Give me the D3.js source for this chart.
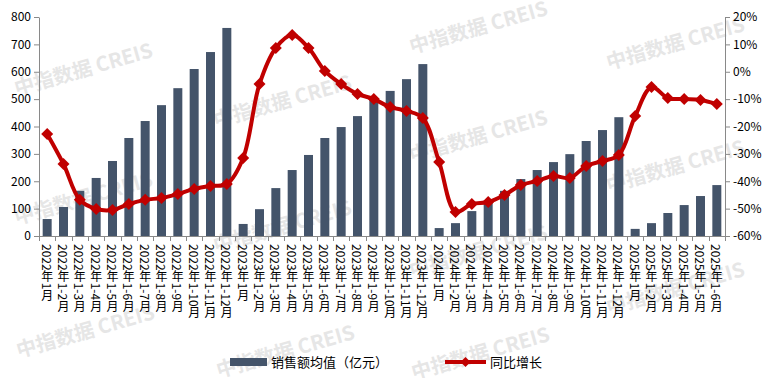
<!DOCTYPE html>
<html><head><meta charset="utf-8">
<script src="https://cdn.jsdelivr.net/npm/d3@7"></script>
<style>
html,body{margin:0;padding:0;background:#fff;}
svg{display:block;}
</style></head>
<body>
<svg id="chart" width="774" height="378"></svg>
<script>
const categories = [
 "2022年1月","2022年1-2月","2022年1-3月","2022年1-4月","2022年1-5月","2022年1-6月","2022年1-7月","2022年1-8月","2022年1-9月","2022年1-10月","2022年1-11月","2022年1-12月",
 "2023年1月","2023年1-2月","2023年1-3月","2023年1-4月","2023年1-5月","2023年1-6月","2023年1-7月","2023年1-8月","2023年1-9月","2023年1-10月","2023年1-11月","2023年1-12月",
 "2024年1月","2024年1-2月","2024年1-3月","2024年1-4月","2024年1-5月","2024年1-6月","2024年1-7月","2024年1-8月","2024年1-9月","2024年1-10月","2024年1-11月","2024年1-12月",
 "2025年1月","2025年1-2月","2025年1-3月","2025年1-4月","2025年1-5月","2025年1-6月"
];
const salesAvg = [62,106,165,212,274,358,420,478,540,610,672,760,
 44,98,175,241,296,358,398,438,497,530,573,628,
 29,47,91,122,165,208,241,270,299,347,387,434,
 26,47,84,113,146,186];
const yoyGrowth = [-22.7,-33.7,-46.8,-50.1,-50.5,-48.3,-46.8,-46.1,-44.7,-42.8,-41.7,-41.0,
 -31.5,-4.5,8.7,13.4,8.7,0.3,-4.5,-8.1,-10.0,-12.9,-14.3,-16.9,
 -33.0,-51.2,-48.3,-47.6,-45.0,-41.4,-39.9,-38.1,-38.8,-34.4,-32.6,-30.4,
 -16.2,-5.6,-9.6,-10.0,-10.3,-11.8];
const leftTicks = [0,100,200,300,400,500,600,700,800];
const rightTicks = [-60,-50,-40,-30,-20,-10,0,10,20];
const seriesNames = ["销售额均值（亿元）","同比增长"];
const watermarkText = "中指数据 CREIS";

(function(){
const svg = d3.select("#chart");
const W = 774, H = 378;
const pl = 39, pr = 725, pt = 17, pb = 236;
const barColor = "#44546a", lineColor = "#c00000", axisColor = "#898989";
const font = "'Noto Sans CJK SC', 'Noto Sans', sans-serif";

svg.append("rect").attr("width",W).attr("height",H).attr("fill","#fff");

// watermarks (behind)
const wm = svg.append("g");
const wmPos = [[83,68],[282,100],[478,26],[675,42],[478,135],[675,165],[83,197],[282,225],[478,250],[675,287],[85,330],[285,350],[480,352]];
wmPos.forEach(p=>{
  wm.append("text").attr("transform",`translate(${p[0]},${p[1]}) rotate(-16)`)
    .attr("text-anchor","middle").attr("dominant-baseline","central")
    .attr("font-family",font).attr("font-weight","bold").attr("font-size",20)
    .attr("fill","#d9d9d9").attr("opacity",0.65).text(watermarkText);
});

const x = d3.scaleBand().domain(categories).range([pl,pr]).paddingInner(0.45).paddingOuter(0.225);
const y = d3.scaleLinear().domain([0,800]).range([pb,pt]);
const y2 = d3.scaleLinear().domain([-60,20]).range([pb,pt]);
const step = x.step();

// bars
svg.append("g").selectAll("rect").data(categories).join("rect")
  .attr("x",d=>x(d)).attr("width",x.bandwidth())
  .attr("y",(d,i)=>y(salesAvg[i])).attr("height",(d,i)=>pb-y(salesAvg[i]))
  .attr("fill",barColor);

// left axis
const ax = svg.append("g").attr("transform",`translate(${pl},0)`)
  .call(d3.axisLeft(y).tickValues(leftTicks).tickSize(5).tickSizeOuter(0).tickPadding(3));
ax.select(".domain").attr("stroke",axisColor);
ax.selectAll(".tick line").attr("stroke",axisColor);
ax.selectAll("text").attr("font-family",font).attr("font-size",12).attr("fill","#000");

// right axis
const ax2 = svg.append("g").attr("transform",`translate(${pr},0)`)
  .call(d3.axisRight(y2).tickValues(rightTicks).tickFormat(d=>d+"%").tickSize(5).tickSizeOuter(0).tickPadding(3));
ax2.select(".domain").attr("stroke",axisColor);
ax2.selectAll(".tick line").attr("stroke",axisColor);
ax2.selectAll("text").attr("font-family",font).attr("font-size",12).attr("fill","#000");

// bottom axis
const bx = svg.append("g");
bx.append("line").attr("x1",pl).attr("x2",pr).attr("y1",pb+0.5).attr("y2",pb+0.5).attr("stroke",axisColor);
const bounds = categories.map(c=>x(c)-step*0.225).concat([pr]);
bx.selectAll("line.t").data(bounds).join("line").attr("class","t")
  .attr("x1",d=>Math.round(d)+0.5).attr("x2",d=>Math.round(d)+0.5)
  .attr("y1",pb).attr("y2",pb+5).attr("stroke",axisColor);
bx.selectAll("text").data(categories).join("text")
  .attr("x",d=>x(d)+x.bandwidth()/2).attr("y",244)
  .attr("style","writing-mode: vertical-rl; text-orientation: mixed;")
  .attr("font-family",font).attr("font-size",12).attr("fill","#000")
  .text(d=>d);

// line
const line = d3.line()
  .x((d,i)=>x(categories[i])+x.bandwidth()/2)
  .y(d=>y2(d))
  .curve(d3.curveCatmullRom.alpha(0.5));
svg.append("path").datum(yoyGrowth).attr("d",line)
  .attr("fill","none").attr("stroke",lineColor).attr("stroke-width",4).attr("stroke-linejoin","round");
const diamond = d3.symbol().type(d3.symbolSquare).size(72);
svg.append("g").selectAll("path").data(yoyGrowth).join("path")
  .attr("transform",(d,i)=>`translate(${x(categories[i])+x.bandwidth()/2},${y2(d)}) rotate(45)`)
  .attr("d",diamond()).attr("fill",lineColor);

// legend
const lg = svg.append("g");
lg.append("rect").attr("x",230).attr("y",358).attr("width",37).attr("height",8).attr("fill",barColor);
lg.append("text").attr("x",271).attr("y",367).attr("font-family",font).attr("font-size",13).attr("fill","#000").text(seriesNames[0]);
lg.append("line").attr("x1",445).attr("x2",486).attr("y1",362).attr("y2",362).attr("stroke",lineColor).attr("stroke-width",4);
lg.append("path").attr("transform","translate(465.5,362) rotate(45)").attr("d",d3.symbol().type(d3.symbolSquare).size(50)()).attr("fill",lineColor);
lg.append("text").attr("x",490).attr("y",367).attr("font-family",font).attr("font-size",13).attr("fill","#000").text(seriesNames[1]);
})();
</script>
</body></html>
